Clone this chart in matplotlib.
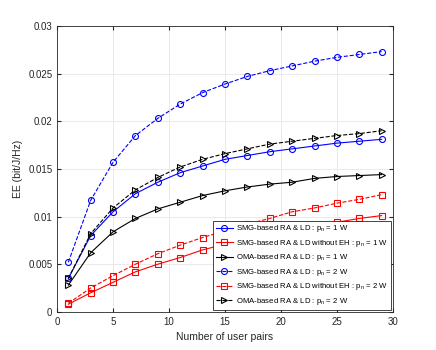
import matplotlib
matplotlib.use("Agg")
import matplotlib.pyplot as plt

# Datos
pares = [1, 3, 5, 7, 9, 11, 13, 15, 17, 19, 21, 23, 25, 27, 29]

smg_1w = [0.0035, 0.0080, 0.0105, 0.0124, 0.0136, 0.0146, 0.0153, 0.0160,
          0.0164, 0.0168, 0.0171, 0.0174, 0.0177, 0.0179, 0.0181]
smg_sin_eh_1w = [0.0008, 0.0020, 0.0031, 0.0042, 0.0050, 0.0057, 0.0065, 0.0071,
                 0.0077, 0.0082, 0.0086, 0.0090, 0.0094, 0.0098, 0.0101]
oma_1w = [0.0028, 0.0062, 0.0084, 0.0098, 0.0108, 0.0115, 0.0122, 0.0127,
          0.0131, 0.0134, 0.0136, 0.0140, 0.0142, 0.0143, 0.0144]
smg_2w = [0.0052, 0.0117, 0.0157, 0.0185, 0.0203, 0.0218, 0.0230, 0.0239,
          0.0247, 0.0253, 0.0258, 0.0263, 0.0267, 0.0270, 0.0273]
smg_sin_eh_2w = [0.0009, 0.0025, 0.0038, 0.0050, 0.0061, 0.0070, 0.0078, 0.0085,
                 0.0092, 0.0098, 0.0105, 0.0109, 0.0114, 0.0118, 0.0123]
oma_2w = [0.0035, 0.0082, 0.0109, 0.0128, 0.0141, 0.0152, 0.0160, 0.0166,
          0.0171, 0.0176, 0.0179, 0.0182, 0.0185, 0.0187, 0.0190]

y_ticks = [0, 0.005, 0.01, 0.015, 0.02, 0.025, 0.03]
y_tick_labels = ["0", "0.005", "0.01", "0.015", "0.02", "0.025", "0.03"]
x_ticks = [0, 5, 10, 15, 20, 25, 30]

etiquetas = [
    r"SMG-based RA & LD : p$_{\rm n}$ = 1 W",
    r"SMG-based RA & LD without EH : p$_{\rm n}$ = 1 W",
    r"OMA-based RA & LD : p$_{\rm n}$ = 1 W",
    r"SMG-based RA & LD : p$_{\rm n}$ = 2 W",
    r"SMG-based RA & LD without EH : p$_{\rm n}$ = 2 W",
    r"OMA-based RA & LD : p$_{\rm n}$ = 2 W",
]

plt.rcParams["font.family"] = "Liberation Sans"
plt.rcParams["mathtext.fontset"] = "custom"
plt.rcParams["mathtext.rm"] = "Liberation Sans"

fig = plt.figure(figsize=(4.36, 3.5), dpi=100)
ax = fig.add_axes([0.131, 0.109, 0.770, 0.817])

estilo = dict(lw=0.8, ms=4.3, mfc="none", mew=0.8)
ax.plot(pares, smg_1w, "-", color="blue", marker="o", label=etiquetas[0], **estilo)
ax.plot(pares, smg_sin_eh_1w, "-", color="red", marker="s", label=etiquetas[1], **estilo)
ax.plot(pares, oma_1w, "-", color="black", marker=">", label=etiquetas[2], **estilo)
ax.plot(pares, smg_2w, "--", color="blue", marker="o", label=etiquetas[3], **estilo)
ax.plot(pares, smg_sin_eh_2w, "--", color="red", marker="s", label=etiquetas[4], **estilo)
ax.plot(pares, oma_2w, "--", color="black", marker=">", label=etiquetas[5], **estilo)

ax.set_xlim(0, 30)
ax.set_ylim(0, 0.03)
ax.set_xticks(x_ticks)
ax.set_yticks(y_ticks)
ax.set_yticklabels(y_tick_labels)
ax.tick_params(direction="in", labelsize=7, colors="#262626", length=3, top=True, right=True)
ax.grid(True, color="#e6e6e6", lw=0.6)
ax.set_axisbelow(True)
for s in ax.spines.values():
    s.set_color("#262626")
    s.set_linewidth(0.6)

ax.set_xlabel("Number of user pairs", fontsize=7.5, color="#262626")
ax.set_ylabel("EE (bit/J/Hz)", fontsize=7.5, color="#262626")

leg = ax.legend(loc="lower right", fontsize=5.6, fancybox=False, framealpha=1,
                edgecolor="#262626", handlelength=2.2, borderpad=0.35,
                labelspacing=0.45, handletextpad=0.4, borderaxespad=0.3)
leg.get_frame().set_linewidth(0.6)

fig.savefig("out.png", dpi=100)
